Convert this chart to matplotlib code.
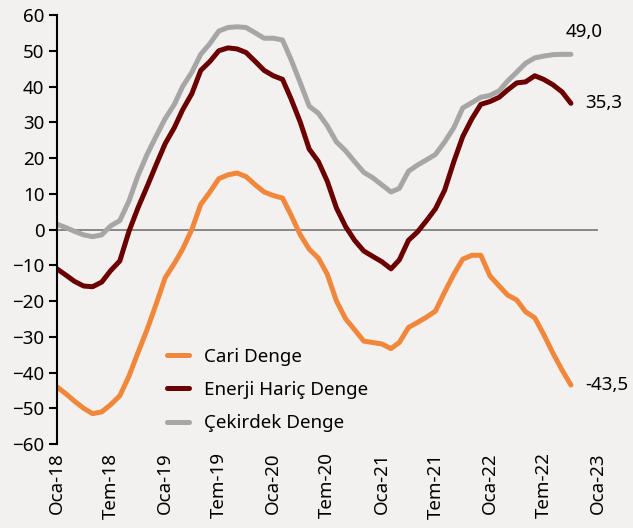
import pandas as pd
import matplotlib
matplotlib.use("Agg")
import matplotlib.pyplot as plt

# Aylik seriler, Ocak 2018 - Ekim 2022
aylar = pd.date_range("2018-01-01", "2022-10-01", freq="MS")

cari = [-44, -46, -48, -50, -51.5, -51, -49, -46.5, -41, -34.5, -28, -21,
        -13.5, -9.5, -5.5, 0, 7, 10.5, 14.2, 15.3, 15.8, 14.8, 12.5, 10.5,
        9.5, 8.8, 4, -1.5, -5.5, -8, -12.5, -20, -25, -28, -31.2, -31.6,
        -32, -33.3, -31.6, -27.4, -26, -24.5, -22.8, -17.5, -12.5, -8.3, -7.2, -7.2,
        -13, -15.8, -18.3, -19.7, -23, -24.7, -29.3, -34.5, -39.3, -43.5]

enerji_haric = [-11, -12.8, -14.5, -15.8, -16, -14.7, -11.5, -8.8, -0.5, 6, 12, 18,
                24, 28.5, 33.5, 38, 44.5, 47, 50, 50.8, 50.5, 49.5, 47, 44.5,
                43, 42, 36.5, 30, 22.5, 19, 13.5, 6, 0.8, -3, -6, -7.5,
                -9, -11, -8.5, -3, -0.7, 2.5, 5.8, 11, 19, 26, 31, 35,
                35.8, 37, 39, 41, 41.3, 43, 42, 40.5, 38.5, 35.3]

cekirdek = [1.5, 0.5, -0.5, -1.5, -2, -1.5, 1, 2.5, 8, 15, 21, 26,
            31, 35, 40, 44, 49, 52, 55.5, 56.5, 56.7, 56.5, 55, 53.5,
            53.5, 53, 47.5, 41, 34.5, 32.5, 29, 24.5, 22, 19, 16, 14.5,
            12.5, 10.5, 11.5, 16.3, 18, 19.5, 21, 24.5, 28.5, 34, 35.5, 37,
            37.5, 38.8, 41.5, 44, 46.5, 48, 48.5, 48.9, 49, 49]

ay_adlari = {1: "Oca", 7: "Tem"}

plt.rcParams["font.family"] = ["Noto Sans", "DejaVu Sans"]
arka = "#f3f1ef"
fs = 13.5

fig = plt.figure(figsize=(6.33, 5.28), dpi=100, facecolor=arka)
ax = fig.add_axes([0.090, 0.159, 0.855, 0.8126], facecolor=arka)

ax.axhline(0, color="#7f7f7f", lw=1.3, zorder=1)
ax.plot(aylar, cari, color="#f0873a", lw=3.6, solid_capstyle="round", label="Cari Denge")
ax.plot(aylar, enerji_haric, color="#6b0000", lw=3.6, solid_capstyle="round", label="Enerji Hariç Denge")
ax.plot(aylar, cekirdek, color="#a6a6a6", lw=3.6, solid_capstyle="round", label="Çekirdek Denge")

ax.set_xlim(pd.Timestamp("2018-01-01"), pd.Timestamp("2023-01-01"))
ax.set_ylim(-60, 60)
ax.set_yticks(range(-60, 61, 10))

tikler = pd.date_range("2018-01-01", "2023-01-01", freq="6MS")
ax.set_xticks(tikler)
ax.set_xticklabels([f"{ay_adlari[t.month]}-{t.strftime('%y')}" for t in tikler], rotation=90)

for s in ["top", "right", "bottom"]:
    ax.spines[s].set_visible(False)
ax.spines["left"].set_linewidth(1.5)
ax.tick_params(axis="y", length=6, width=1.5, labelsize=fs, pad=3)
ax.tick_params(axis="x", length=0, labelsize=fs, pad=6)

# son degerler
ax.annotate("49,0", (aylar[-1], cekirdek[-1]), xytext=(-4, 16), textcoords="offset points",
            fontsize=fs, ha="left", va="center")
ax.annotate("35,3", (aylar[-1], enerji_haric[-1]), xytext=(10, 0), textcoords="offset points",
            fontsize=fs, ha="left", va="center")
ax.annotate("-43,5", (aylar[-1], cari[-1]), xytext=(10, 0), textcoords="offset points",
            fontsize=fs, ha="left", va="center")

ax.legend(loc="center left", bbox_to_anchor=(0.203, 0.126), frameon=False, fontsize=fs,
          handlelength=1.2, handletextpad=0.8, labelspacing=0.82,
          borderpad=0, borderaxespad=0)

fig.savefig("out.png", dpi=100, facecolor=arka)
